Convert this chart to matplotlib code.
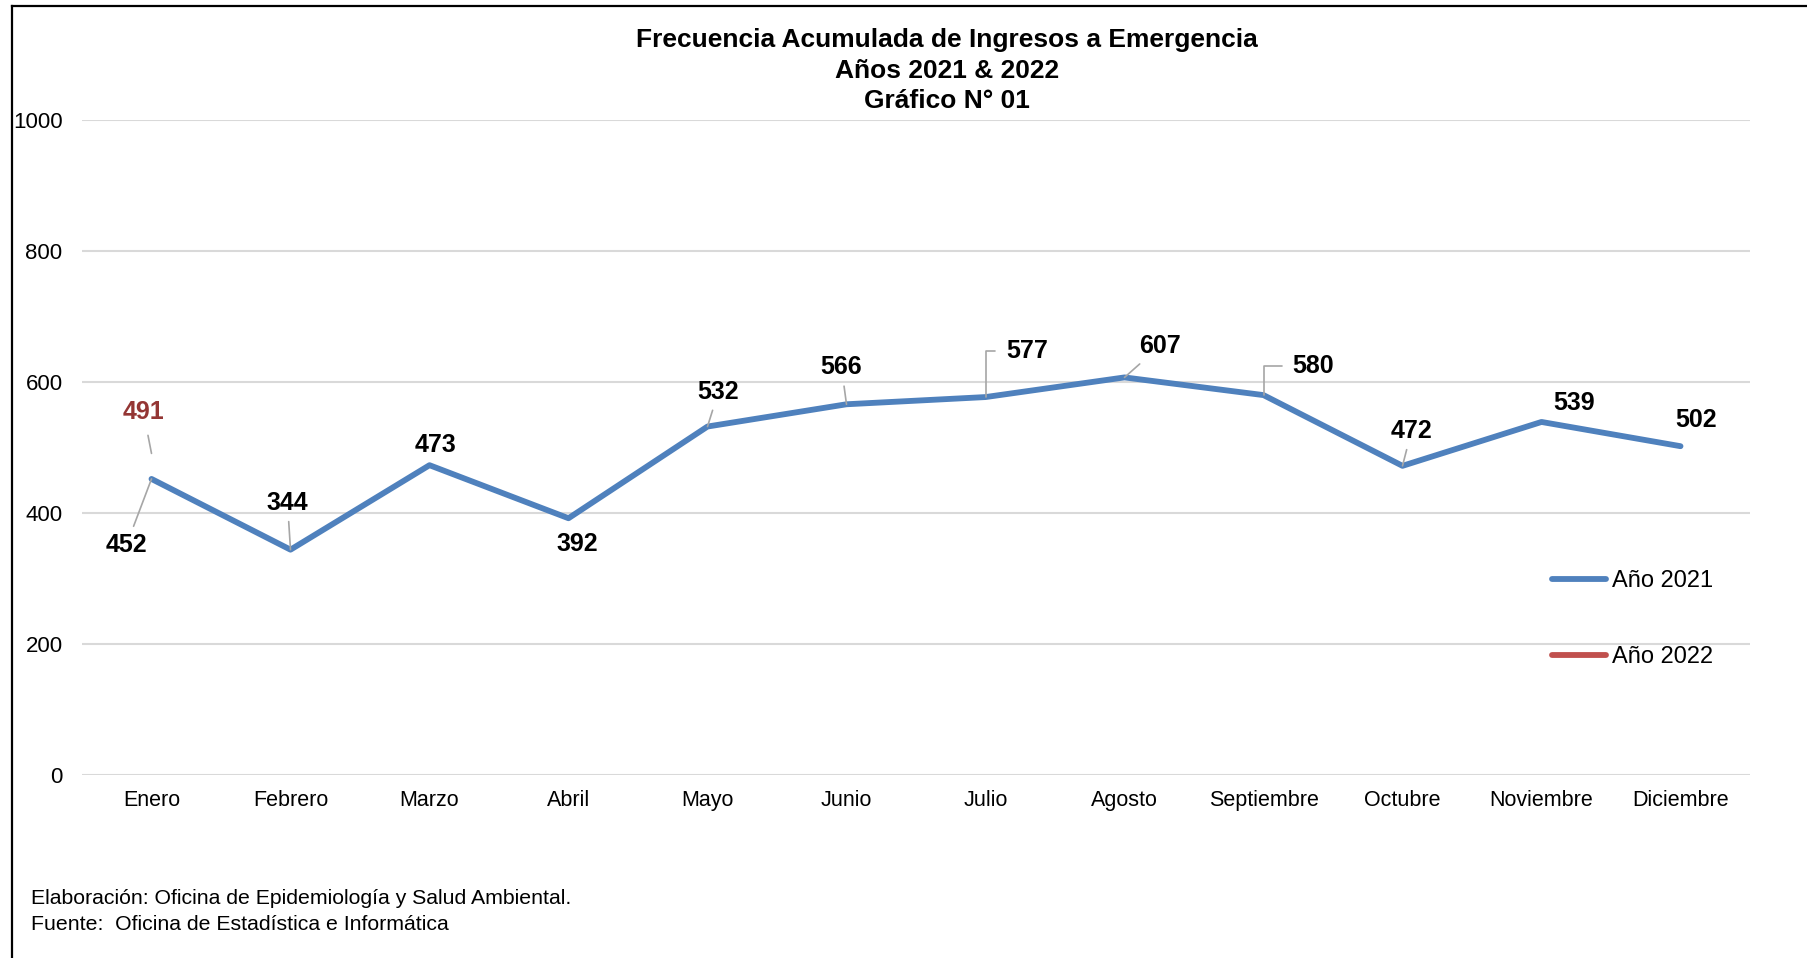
import numpy as np
import matplotlib
matplotlib.use("Agg")
import matplotlib.pyplot as plt
from matplotlib.lines import Line2D

plt.rcParams['font.family'] = ['Liberation Sans', 'DejaVu Sans']

meses = ["Enero", "Febrero", "Marzo", "Abril", "Mayo", "Junio", "Julio",
         "Agosto", "Septiembre", "Octubre", "Noviembre", "Diciembre"]
ingresos_2021 = [452, 344, 473, 392, 532, 566, 577, 607, 580, 472, 539, 502]
ingresos_2022 = [491]
y_ticks = [0, 200, 400, 600, 800, 1000]

# desplazamiento de cada etiqueta (pixeles) y tipo de guia
offs_2021 = [(-25, -66), (-3, 47), (6, 20), (9, -26), (11, 35), (-5, 37),
             (42, 46), (35, 31), (50, 29), (9, 35), (33, 19), (16, 26)]
guia_2021 = ["line", "line", None, None, "line", "line",
             "elbow", "line", "elbow", "line", None, None]

W, H = 1807, 958
fig = plt.figure(figsize=(W / 100, H / 100), dpi=100)
ax = fig.add_axes([82 / W, 1 - 775 / H, (1750 - 82) / W, (775 - 120) / H])

x = np.arange(len(meses))
ax.plot(x, ingresos_2021, color="#4f81bd", lw=4.2, solid_capstyle="round",
        solid_joinstyle="round", label="Año 2021", zorder=3)
ax.plot(x[:len(ingresos_2022)], ingresos_2022, color="#c0504d", lw=4.2,
        solid_capstyle="round", label="Año 2022", zorder=3)

ax.set_xlim(-0.5, len(meses) - 0.5)
ax.set_ylim(0, 1000)
ax.set_yticks(y_ticks)
ax.set_xticks(x)
ax.set_xticklabels(meses)
ax.tick_params(axis="both", length=0, labelsize=15.5, colors="black")
ax.tick_params(axis="y", labelsize=16, pad=14)
ax.tick_params(axis="x", pad=10.5)
ax.grid(axis="y", color="#d9d9d9", lw=1.5)
ax.set_axisbelow(True)
for s in ax.spines.values():
    s.set_visible(False)

gris = "#a6a6a6"
for i, v in enumerate(ingresos_2021):
    dx, dy = offs_2021[i]
    g = guia_2021[i]
    if g == "line":
        ap = dict(arrowstyle="-", color=gris, lw=1.2, shrinkA=3, shrinkB=0)
    elif g == "elbow":
        ap = dict(arrowstyle="-", color=gris, lw=1.2, shrinkA=6, shrinkB=0,
                  relpos=(0, 0.5), connectionstyle="angle,angleA=0,angleB=90,rad=0")
    else:
        ap = None
    ax.annotate(str(v), (x[i], v), xytext=(dx, dy), textcoords="offset pixels",
                ha="center", va="center", fontsize=18, fontweight="bold",
                color="black", arrowprops=ap, zorder=4)

for i, v in enumerate(ingresos_2022):
    ax.annotate(str(v), (x[i], v), xytext=(-8, 41), textcoords="offset pixels",
                ha="center", va="center", fontsize=18, fontweight="bold",
                color="#943634",
                arrowprops=dict(arrowstyle="-", color=gris, lw=1.2, shrinkA=6, shrinkB=0),
                zorder=4)

ax.legend(loc="center left", bbox_to_anchor=(1552 / W, 1 - 619 / H),
          bbox_transform=fig.transFigure, frameon=False, fontsize=17,
          handlelength=2.3, handletextpad=0.22, labelspacing=2.3,
          borderpad=0, borderaxespad=0)

fig.text(947 / W, 1 - 40 / H, "Frecuencia Acumulada de Ingresos a Emergencia",
         ha="center", va="center", fontsize=19, fontweight="bold")
fig.text(947 / W, 1 - 71 / H, "Años 2021 & 2022",
         ha="center", va="center", fontsize=19, fontweight="bold")
fig.text(947 / W, 1 - 101 / H, "Gráfico N° 01",
         ha="center", va="center", fontsize=19, fontweight="bold")

fig.text(31 / W, 1 - 899 / H, "Elaboración: Oficina de Epidemiología y Salud Ambiental.",
         ha="left", va="center", fontsize=15.3)
fig.text(31 / W, 1 - 924 / H, "Fuente:  Oficina de Estadística e Informática",
         ha="left", va="center", fontsize=15.3)

# marco del grafico (solo borde izquierdo y superior visibles)
fig.add_artist(Line2D([12 / W, 12 / W], [0, 1 - 6 / H], color="black", lw=1.6))
fig.add_artist(Line2D([12 / W, 1], [1 - 6 / H, 1 - 6 / H], color="black", lw=1.6))

fig.savefig("out.png", dpi=100)
